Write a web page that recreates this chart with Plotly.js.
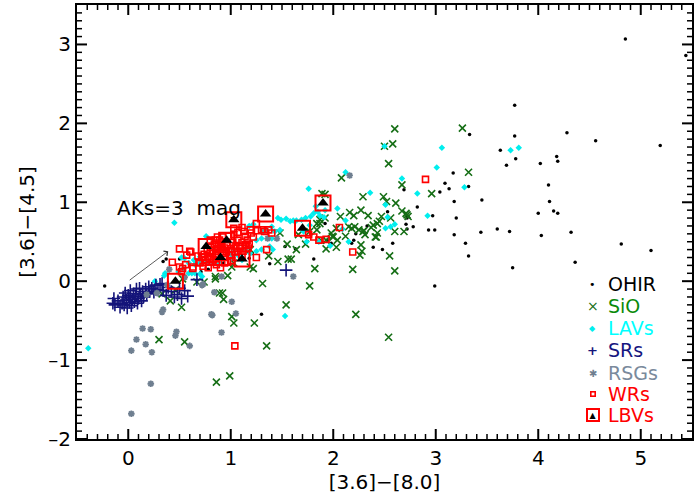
<!DOCTYPE html>
<html>
<head>
<meta charset="utf-8">
<script src="https://cdn.plot.ly/plotly-3.0.1.min.js"></script>
<style>html,body{margin:0;padding:0;background:#fff;}#chart{width:700px;height:500px;}</style>
</head>
<body>
<div id="chart"></div>
<script>
// ---- data ([3.6]-[8.0], [3.6]-[4.5]) ----
const ohirX = [-0.23,0.34,0.37,0.50,0.71,0.78,0.93,1.21,1.18,1.38,1.30,1.53,1.63,1.81,1.92,1.94,1.98,2.18,2.20,2.22,2.33,2.39,2.48,2.58,2.53,2.69,2.71,2.72,2.72,2.72,2.78,2.82,2.93,2.97,2.99,2.99,3.04,3.09,3.13,3.17,3.18,3.18,3.20,3.29,3.32,3.32,3.33,3.44,3.45,3.60,3.63,3.69,3.72,3.75,3.77,3.77,3.78,4.00,4.02,4.03,4.10,4.11,4.15,4.18,4.19,4.19,4.28,4.32,4.36,4.56,4.81,4.85,5.10,5.19,5.44];
const ohirY = [-0.06,0.25,0.28,0.28,0.12,0.15,0.23,0.35,0.29,0.22,-0.42,0.44,0.41,0.28,0.73,0.52,0.48,0.48,0.52,0.60,0.70,0.43,0.40,0.48,0.88,1.16,0.72,0.66,0.83,0.80,0.69,0.94,0.65,0.83,0.65,-0.06,1.13,1.24,1.17,1.37,1.01,0.59,0.80,0.48,0.32,1.20,1.86,0.62,1.03,0.66,1.66,1.47,0.63,0.17,2.23,1.84,1.55,0.86,1.49,0.58,1.22,1.01,0.89,1.58,1.52,0.86,1.88,0.62,0.24,1.78,0.47,3.07,0.39,1.72,2.86];

const sioX = [0.30,0.55,0.52,0.41,0.33,0.46,0.53,0.67,0.74,0.85,0.85,0.97,0.89,0.92,0.93,1.01,1.03,1.23,1.35,0.86,0.99,1.54,1.31,1.77,1.82,1.01,1.03,1.19,1.22,1.19,1.37,1.46,1.56,1.59,1.48,1.55,1.64,1.73,1.66,1.84,1.93,1.93,1.89,1.92,1.92,1.87,1.88,1.98,1.99,2.03,2.04,2.03,2.07,2.08,2.12,2.15,2.16,2.18,2.19,2.20,2.22,2.25,2.26,2.27,2.27,2.28,2.29,2.29,2.31,2.34,2.37,2.41,2.43,2.43,2.45,2.47,2.49,2.50,2.52,2.54,2.54,2.55,2.56,2.58,2.60,2.60,2.60,2.61,2.67,2.67,2.69,2.71,2.72,2.73,2.96,3.26,3.32,1.84,1.87,1.77,2.21,2.30,2.39,2.42,2.00];
const sioY = [-0.74,-0.77,-0.33,-0.25,-0.16,-0.11,0.03,-0.01,-0.01,0.03,0.06,0.07,-0.15,-0.15,-0.23,-0.45,-0.53,-0.53,-0.82,-1.28,-1.20,-0.30,-0.03,-0.06,0.16,0.18,0.23,0.18,0.16,0.40,0.32,0.25,0.28,0.28,0.61,0.47,0.40,0.47,0.59,0.73,0.52,0.41,1.11,1.10,0.80,0.73,0.52,0.61,0.57,0.67,0.52,0.43,0.82,1.31,0.57,0.69,0.87,0.67,0.15,0.83,-0.42,0.65,0.33,0.46,0.90,0.38,0.63,1.07,0.59,0.83,0.68,0.56,0.61,0.73,0.76,0.82,1.07,1.71,1.01,1.49,-0.71,0.32,0.80,1.74,1.93,0.63,0.13,0.99,1.22,0.89,0.63,0.86,0.84,0.82,1.11,1.94,1.38,0.65,0.78,0.63,0.69,0.64,0.71,0.56,0.56];

const lavX = [-0.39,0.26,0.35,0.36,0.45,0.49,0.52,0.55,0.54,0.59,0.59,0.62,0.64,0.65,0.65,0.70,0.70,0.70,0.72,0.76,0.77,0.83,0.85,0.88,0.90,0.99,1.01,1.03,1.07,1.11,1.14,1.19,1.25,1.25,1.30,1.30,1.32,1.35,1.38,1.40,1.40,1.41,1.43,1.46,1.48,1.49,1.53,1.54,1.58,1.61,1.64,1.69,1.73,1.76,1.78,1.81,1.83,1.85,1.92,1.87,1.91,2.04,2.09,2.12,2.12,2.15,2.36,2.50,2.51,2.51,2.53,2.56,2.60,2.67,2.82,2.92,3.01,3.06,3.28,3.73,3.81,1.71,1.77,1.74,1.86,1.97,1.22,1.18];
const lavY = [-0.85,0.00,0.07,0.10,0.74,0.12,0.30,0.29,0.16,0.10,0.23,0.10,0.27,0.10,0.21,0.09,0.23,0.31,0.06,0.57,0.25,0.23,0.25,0.21,0.27,0.35,0.29,0.40,0.33,0.27,0.40,0.35,0.38,0.52,0.40,0.54,0.63,0.65,0.44,0.54,0.69,0.40,0.63,0.80,0.65,0.78,-0.44,0.79,0.76,0.77,0.77,0.78,0.80,1.17,0.82,0.86,0.95,0.88,0.90,0.83,0.81,0.92,0.66,1.38,0.77,0.50,1.12,1.71,0.97,0.67,0.81,0.69,0.72,1.30,1.11,0.83,1.44,1.69,1.19,1.66,1.69,0.63,0.71,0.50,0.50,0.45,0.72,0.70];

const srX = [-0.15,-0.14,-0.13,-0.10,-0.08,-0.06,-0.05,-0.04,-0.03,-0.02,-0.01,0.00,0.01,0.02,0.02,0.03,0.04,0.05,0.06,0.07,0.08,0.09,0.10,0.11,0.12,0.13,0.14,0.15,0.17,0.18,0.20,0.21,0.23,0.25,0.27,0.29,0.31,0.33,0.34,0.37,0.39,0.42,0.45,0.48,0.50,0.52,0.55,0.58,0.67,1.54];
const srY = [-0.28,-0.22,-0.30,-0.25,-0.33,-0.28,-0.20,-0.30,-0.15,-0.24,-0.34,-0.18,-0.27,-0.21,-0.12,-0.31,-0.23,-0.16,-0.26,-0.19,-0.10,-0.28,-0.22,-0.09,-0.17,-0.25,-0.13,-0.20,-0.10,-0.16,-0.07,-0.13,-0.09,-0.14,-0.05,-0.11,-0.04,-0.03,-0.12,-0.18,-0.08,-0.13,-0.20,-0.17,-0.09,-0.22,-0.12,-0.19,0.02,0.14];

const rsgX = [0.14,0.22,0.08,0.17,0.03,0.23,0.47,0.46,0.60,0.22,0.03,0.34,0.33,0.82,0.91,1.01,1.05,0.84,0.73,0.40,0.38,0.72,0.81,0.91,1.36,1.45,1.61,0.55,2.16,0.18,0.28];
const rsgY = [-0.60,-0.61,-0.74,-0.80,-0.88,-0.90,-0.64,-0.69,-0.82,-1.30,-1.68,-0.36,-0.39,-0.43,-0.65,-0.26,-0.41,-0.14,-0.04,0.15,-0.05,-0.05,-0.42,0.06,0.54,0.54,0.06,0.05,1.34,-0.17,-0.15];

const wrX = [1.04,2.90,2.06,2.19,1.76,1.81,1.86,1.93,0.43,0.50,0.50,0.52,0.53,0.56,0.57,0.60,0.61,0.63,0.63,0.68,0.70,0.72,0.74,0.75,0.79,0.79,0.82,0.83,0.86,0.85,0.87,0.88,0.90,0.91,0.92,1.03,1.07,1.09,1.11,1.11,1.12,1.13,1.14,1.14,1.16,1.17,1.19,1.20,1.22,1.25,1.25,1.26,1.30,1.33,1.35,1.37,1.40,0.77,0.80,0.82,0.85,0.87,0.88,0.90,0.92,0.94,0.94,0.96,0.97,0.99,1.00,1.02,1.04,1.05,1.07,1.09,0.82,0.86,0.90,0.94,0.97,1.01,1.05,0.76,0.78,0.73,0.80,0.84,0.89,0.92,0.98,1.03,1.07,1.11,1.15,1.18,0.72,0.69];
const wrY = [-0.82,1.29,0.68,0.37,0.59,0.56,0.52,0.53,0.24,0.41,0.18,0.12,0.16,0.21,0.33,0.38,0.37,0.18,0.16,0.32,0.23,0.30,0.34,0.27,0.29,0.31,0.35,0.27,0.32,0.52,0.56,0.46,0.42,0.50,0.40,0.67,0.38,0.44,0.68,0.32,0.38,0.63,0.57,0.46,0.52,0.42,0.65,0.61,0.56,0.73,0.30,0.64,0.65,0.63,0.40,0.65,0.61,0.40,0.43,0.37,0.33,0.41,0.30,0.46,0.35,0.42,0.30,0.37,0.45,0.33,0.41,0.49,0.37,0.45,0.52,0.42,0.24,0.21,0.17,0.23,0.24,0.26,0.30,0.24,0.17,0.19,0.52,0.47,0.52,0.56,0.57,0.59,0.62,0.49,0.45,0.47,0.30,0.24];

const lbvX = [0.46,0.76,0.96,0.90,1.03,1.11,1.34,1.70,1.90];
const lbvY = [0.00,0.44,0.52,0.30,0.78,0.28,0.85,0.67,0.99];

const xTickVals = [0,1,2,3,4,5];
const yTickVals = [-2,-1,0,1,2,3];
const xTickText = ['0','1','2','3','4','5'];
const yTickText = ['\u20132','\u20131','0','1','2','3'];

const legendNames = ['OHIR','SiO','LAVs','SRs','RSGs','WRs','LBVs'];
const legendColors = ['#000000','#0a8a0a','#00ffff','#161680','#7a8a9c','#ff0000','#ff0000'];

const FONT = 'DejaVu Sans, Verdana, sans-serif';
const X_RANGE = [-0.5, 5.5], Y_RANGE = [-2, 3.5];

const traces = [
  {x: ohirX, y: ohirY, name: 'OHIR', mode: 'markers', type: 'scatter',
   marker: {symbol: 'circle', size: 3.5, color: '#000000'}},
  {x: sioX, y: sioY, name: 'SiO', mode: 'markers', type: 'scatter',
   marker: {symbol: 'x-thin-open', size: 7, color: '#156e15', line: {width: 1.6, color: '#156e15'}}},
  {x: lavX, y: lavY, name: 'LAVs', mode: 'markers', type: 'scatter',
   marker: {symbol: 'diamond', size: 5, color: '#00eeee'}},
  {x: srX, y: srY, name: 'SRs', mode: 'markers', type: 'scatter',
   marker: {symbol: 'cross-thin-open', size: 9, color: '#14147a', line: {width: 1.6, color: '#14147a'}}},
  {x: rsgX, y: rsgY, name: 'RSGs', mode: 'markers', type: 'scatter',
   marker: {symbol: 'asterisk-open', size: 5.5, color: '#6f7f90', line: {width: 1.8, color: '#6f7f90'}}},
  {x: wrX, y: wrY, name: 'WRs', mode: 'markers', type: 'scatter',
   marker: {symbol: 'square-open', size: 6, color: '#ff0000', line: {width: 1.6, color: '#ff0000'}}},
  {x: lbvX, y: lbvY, name: 'LBVs', mode: 'markers', type: 'scatter',
   marker: {symbol: 'square-open', size: 15, color: '#ff0000', line: {width: 2, color: '#ff0000'}}},
  {x: lbvX, y: lbvY, name: 'LBVs', mode: 'markers', type: 'scatter',
   marker: {symbol: 'triangle-up', size: 10, color: '#000000'}}
];

// IDL-style inward ticks on all four sides (major from the tick arrays, minor every 0.1)
const tickShapes = [];
function xTick(v, len, w) {
  [[0, len], [1, -len]].forEach(function (s) {
    tickShapes.push({type: 'line', xref: 'x', yref: 'paper', x0: v, x1: v,
      ysizemode: 'pixel', yanchor: s[0], y0: 0, y1: s[1], line: {color: '#000', width: w}});
  });
}
function yTick(v, len, w) {
  [[0, len], [1, -len]].forEach(function (s) {
    tickShapes.push({type: 'line', yref: 'y', xref: 'paper', y0: v, y1: v,
      xsizemode: 'pixel', xanchor: s[0], x0: 0, x1: s[1], line: {color: '#000', width: w}});
  });
}
xTickVals.forEach(function (v) { xTick(v, 10, 2); });
yTickVals.forEach(function (v) { yTick(v, 10, 2); });
for (let k = Math.round(X_RANGE[0] * 10) + 1; k < Math.round(X_RANGE[1] * 10); k++) {
  if (k % 10 !== 0) xTick(k / 10, 5, 1.5);
}
for (let k = Math.round(Y_RANGE[0] * 10) + 1; k < Math.round(Y_RANGE[1] * 10); k++) {
  if (k % 10 !== 0) yTick(k / 10, 5, 1.5);
}

// legend drawn as annotations (coloured texts, key glyphs)
const legY = [0.357, 0.306, 0.255, 0.205, 0.153, 0.103, 0.055];
const keyX = 0.8385, textX = 0.862;
const legendAnn = [];
legendNames.forEach(function (n, i) {
  legendAnn.push({xref: 'paper', yref: 'paper', x: textX, y: legY[i], text: n, showarrow: false,
    xanchor: 'left', yanchor: 'middle', height: 16, borderpad: 0,
    font: {family: FONT, size: 19, color: legendColors[i]}});
});
const keyGlyph = [
  {text: '\u2022', size: 11, color: '#000000'},
  {text: '\u00d7', size: 14, color: '#156e15'},
  {text: '\u25c6', size: 8, color: '#00eeee'},
  {text: '<b>+</b>', size: 13, color: '#14147a'},
  {text: '\u2731', size: 10, color: '#6f7f90'}
];
keyGlyph.forEach(function (g, i) {
  legendAnn.push({xref: 'paper', yref: 'paper', x: keyX, y: legY[i], text: g.text, showarrow: false,
    xanchor: 'center', yanchor: 'middle', height: 12, borderpad: 0,
    font: {family: FONT, size: g.size, color: g.color}});
});
legendAnn.push({xref: 'paper', yref: 'paper', x: keyX, y: legY[5], text: ' ', showarrow: false,
  xanchor: 'center', yanchor: 'middle', width: 3, height: 3, borderpad: 0, borderwidth: 1.6,
  bordercolor: '#ff0000', font: {size: 4}});
legendAnn.push({xref: 'paper', yref: 'paper', x: keyX, y: legY[6], text: '\u25b2', showarrow: false,
  xanchor: 'center', yanchor: 'middle', width: 10, height: 10, borderpad: 0, borderwidth: 2,
  bordercolor: '#ff0000', font: {family: FONT, size: 8, color: '#000'}});

const layout = {
  width: 700, height: 500,
  margin: {l: 77, r: 8, t: 5, b: 61},
  paper_bgcolor: '#fff', plot_bgcolor: '#fff',
  font: {family: FONT, size: 20, color: '#000'},
  showlegend: false,
  xaxis: {
    range: X_RANGE, showline: true, linecolor: '#000', linewidth: 2, mirror: true,
    ticks: '', showgrid: false, zeroline: false,
    tickmode: 'array', tickvals: xTickVals, ticktext: xTickText,
    tickfont: {family: FONT, size: 20, color: '#000'},
    title: {text: '[3.6]\u2212[8.0]', font: {family: FONT, size: 20, color: '#000'}, standoff: 4}
  },
  yaxis: {
    range: Y_RANGE, showline: true, linecolor: '#000', linewidth: 2, mirror: true,
    ticks: '', showgrid: false, zeroline: false,
    tickmode: 'array', tickvals: yTickVals, ticktext: yTickText,
    tickfont: {family: FONT, size: 20, color: '#000'},
    title: {text: '[3.6]\u2212[4.5]', font: {family: FONT, size: 20, color: '#000'}, standoff: 8}
  },
  shapes: tickShapes,
  annotations: [
    {x: -0.125, y: 0.93, xref: 'x', yref: 'y', text: 'AKs=3\u00a0\u00a0mag', showarrow: false,
     xanchor: 'left', yanchor: 'middle', font: {family: FONT, size: 20, color: '#000'}},
    {x: 0.39, y: 0.38, ax: 0.0, ay: 0.0, xref: 'x', yref: 'y', axref: 'x', ayref: 'y',
     text: '', showarrow: true, arrowhead: 4, arrowsize: 1.4, arrowwidth: 0.8, arrowcolor: '#333'}
  ].concat(legendAnn)
};

Plotly.newPlot('chart', traces, layout, {staticPlot: true, displayModeBar: false});
</script>
</body>
</html>
